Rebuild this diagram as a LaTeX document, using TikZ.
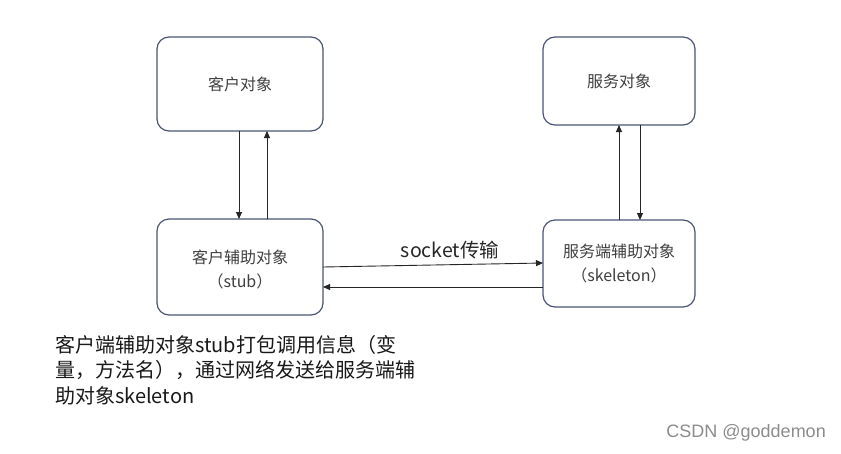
\documentclass[tikz,border=0pt]{standalone}
\usepackage{fontspec}
\setmainfont{Noto Sans CJK SC}
\newfontfamily\wmfont{Liberation Sans}
\usetikzlibrary{arrows.meta}
\definecolor{boxline}{HTML}{4A5474}
\definecolor{boxtext}{HTML}{404040}
\begin{document}
\begin{tikzpicture}[x=1pt,y=-1pt,
  obj/.style={draw=boxline, line width=1.2pt, rounded corners=12pt, fill=white},
  objtext/.style={text=boxtext, font=\fontsize{16}{24}\selectfont, align=center},
  conn/.style={draw=black!85, line width=0.9pt, -{Triangle[length=7pt,width=6pt]}}]
\useasboundingbox[fill=white] (0,0) rectangle (841,453);
% boxes
\draw[obj] (157,37) rectangle (323,131);
\draw[obj] (157,219) rectangle (323,315);
\draw[obj] (543,37) rectangle (695,125);
\draw[obj] (543,220) rectangle (695,307);
\node[objtext] (client) at (240,84) {客户对象};
\node[objtext] (stub) at (240,269) {客户辅助对象\\（stub）};
\node[objtext] (service) at (619,81) {服务对象};
\node[objtext] (skel) at (619,264) {服务端辅助对象\\（skeleton）};
% coordinates
\coordinate (c1) at (239,131); \coordinate (c2) at (239,219);
\coordinate (c3) at (267,219); \coordinate (c4) at (267,131);
\coordinate (s1) at (619,220); \coordinate (s2) at (619,125);
\coordinate (s3) at (640,125); \coordinate (s4) at (640,220);
\coordinate (h1) at (323,267); \coordinate (h2) at (543,263);
\coordinate (h3) at (543,287); \coordinate (h4) at (323,287);
\draw[conn] (c1) -- (c2);
\draw[conn] (c3) -- (c4);
\draw[conn] (s1) -- (s2);
\draw[conn] (s3) -- (s4);
\draw[conn] (h1) -- (h2);
\draw[conn] (h3) -- (h4);
\node[text=black!85, font=\fontsize{19.5}{22}\selectfont] (lbl) at (450,250) {socket传输};
% description
\node[anchor=north west, inner sep=0pt, text=black!90, font=\fontsize{20}{25.5}\selectfont, align=left] (desc) at (55,335)
  {客户端辅助对象stub打包调用信息（变\\量，方法名），通过网络发送给服务端辅\\助对象skeleton};
\node[anchor=east, inner sep=0pt, text=black!45, font=\wmfont\fontsize{18}{20}\selectfont] (wm) at (826,433) {CSDN @goddemon};
\end{tikzpicture}
\end{document}
